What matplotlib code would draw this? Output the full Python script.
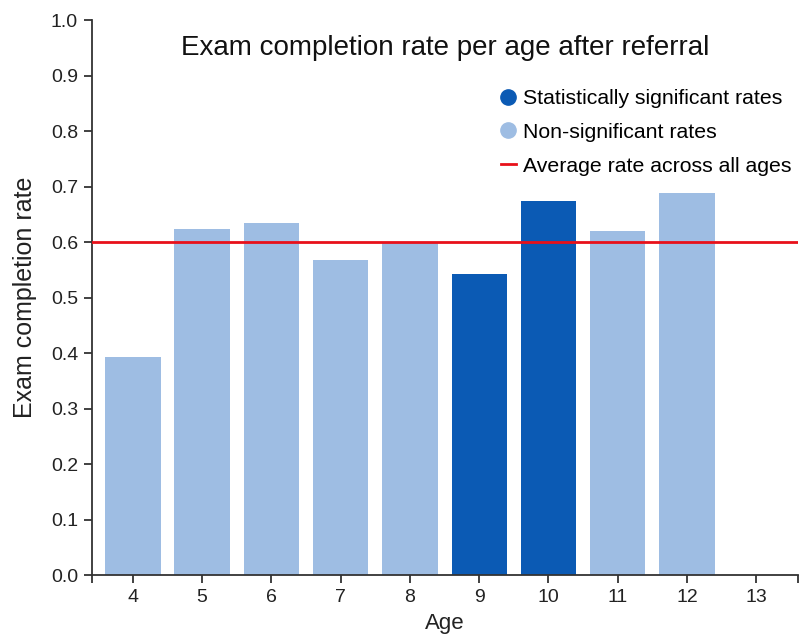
import matplotlib.pyplot as plt
from matplotlib.lines import Line2D

plt.rcParams['font.family'] = ['Liberation Sans', 'DejaVu Sans']

# Data
ages = [4, 5, 6, 7, 8, 9, 10, 11, 12]
rates = [0.393, 0.623, 0.635, 0.568, 0.598, 0.542, 0.674, 0.620, 0.688]
significant = [False, False, False, False, False, True, True, False, False]
average_rate = 0.600
age_ticks = [4, 5, 6, 7, 8, 9, 10, 11, 12, 13]
y_ticks = [0.0, 0.1, 0.2, 0.3, 0.4, 0.5, 0.6, 0.7, 0.8, 0.9, 1.0]

dark_blue = '#0b5ab4'
light_blue = '#9ebde3'
red = '#e8101a'
axis_col = '#333333'

fig = plt.figure(figsize=(8.04, 6.37), dpi=100)
ax = fig.add_axes([0.1144, 0.0973, 0.878, 0.8713])

colors = [dark_blue if s else light_blue for s in significant]
ax.bar(ages, rates, width=0.8, color=colors, zorder=2)
ax.axhline(average_rate, color=red, lw=2, zorder=3)

ax.set_xlim(3.41, 13.6)
ax.set_ylim(0, 1.0)
ax.set_xticks(age_ticks)
ax.set_yticks(y_ticks)
ax.set_yticklabels([f"{v:.1f}" for v in y_ticks])
# outer end ticks like a d3 domain path
ax.set_xticks([3.41, 13.6], minor=True)

for s in ['top', 'right']:
    ax.spines[s].set_visible(False)
for s in ['left', 'bottom']:
    ax.spines[s].set_color(axis_col)
    ax.spines[s].set_linewidth(1.3)

ax.tick_params(axis='both', which='major', length=6, width=1.3, color=axis_col,
               labelsize=14, labelcolor='#222222', pad=4)
ax.tick_params(axis='x', which='minor', length=6, width=1.3, color=axis_col)

ax.set_xlabel("Age", fontsize=16, color='#222222', labelpad=5)
ax.set_ylabel("Exam completion rate", fontsize=18, color='#222222', labelpad=10)
ax.set_title("Exam completion rate per age after referral", fontsize=20,
             color='#111111', y=0.922)

handles = [
    Line2D([], [], marker='o', ls='none', color=dark_blue, markersize=11),
    Line2D([], [], marker='o', ls='none', color=light_blue, markersize=11),
    Line2D([], [], color=red, lw=2),
]
labels = ["Statistically significant rates", "Non-significant rates",
          "Average rate across all ages"]
ax.legend(handles, labels, loc='upper right', bbox_to_anchor=(1.003, 0.891),
          frameon=False, fontsize=15.3, handlelength=0.7, handletextpad=0.35,
          labelspacing=0.7, borderaxespad=0)

fig.savefig("out.png", dpi=100)
